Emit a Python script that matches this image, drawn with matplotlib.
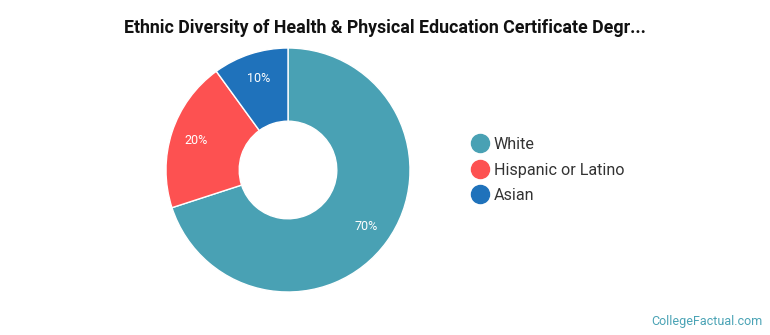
import matplotlib
matplotlib.use("Agg")
import matplotlib.pyplot as plt
from matplotlib.lines import Line2D

plt.rcParams['font.family'] = ['Roboto', 'DejaVu Sans']

categories = ["White", "Hispanic or Latino", "Asian"]
values = [70, 20, 10]
colors = ["#49a1b4", "#fd5151", "#1f72bb"]
title = "Ethnic Diversity of Health & Physical Education Certificate Degr..."

fig = plt.figure(figsize=(7.7, 3.35), dpi=100)
W, H = 770, 335
cx, cy, r = 288, 170, 122
ax = fig.add_axes([(cx - r) / W, (H - cy - r) / H, 2 * r / W, 2 * r / H])
wedges, texts, autotexts = ax.pie(
    values, colors=colors, startangle=90, counterclock=False,
    radius=1.0, wedgeprops=dict(width=0.6, edgecolor="white", linewidth=1),
    autopct=lambda p: f"{p:.0f}%", pctdistance=0.79,
    textprops=dict(color="white", fontsize=9))
ax.set_xlim(-1, 1)
ax.set_ylim(-1, 1)
ax.set_aspect("equal")
ax.axis("off")

fig.text(385 / W, 1 - 28 / H, title, ha="center", va="center",
         fontsize=12.8, fontweight="bold", color="#111111")

handles = [Line2D([0], [0], marker="o", linestyle="none", markersize=13,
                  markerfacecolor=c, markeredgecolor=c) for c in colors]
leg = fig.legend(handles, categories, loc="center left",
                 bbox_to_anchor=(456 / W, 1 - 170 / H), frameon=False,
                 fontsize=11.6, handletextpad=0.25, labelspacing=0.66,
                 handlelength=1.2)
for t in leg.get_texts():
    t.set_color("#333333")

fig.text(762 / W, 1 - 321 / H, "CollegeFactual.com", ha="right", va="center",
         fontsize=9, color="#4aa3b5")

fig.savefig("out.png", dpi=100)
